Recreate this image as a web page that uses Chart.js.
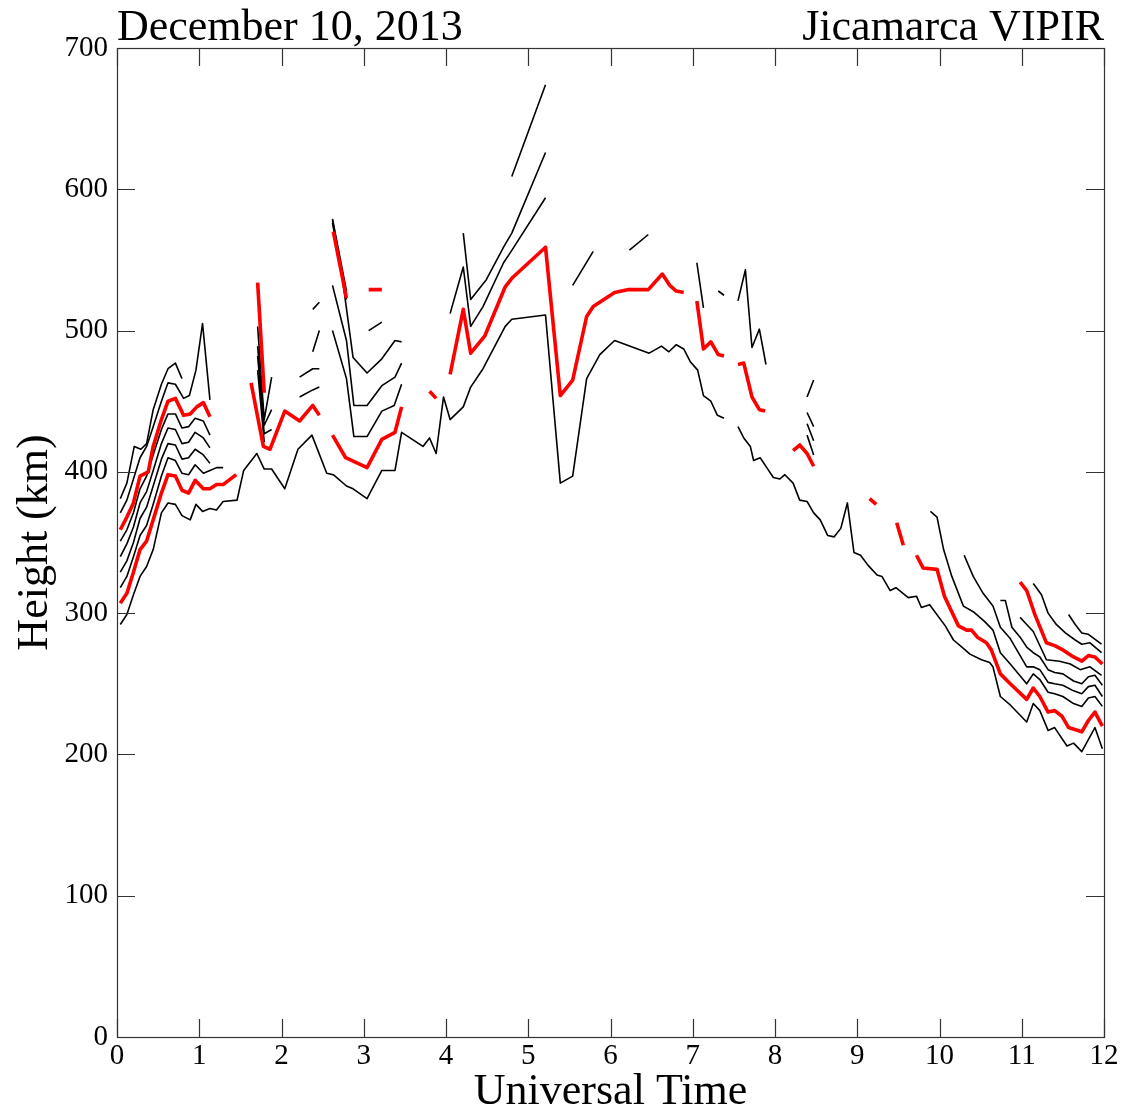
<!DOCTYPE html>
<html>
<head>
<meta charset="utf-8">
<script src="https://cdn.jsdelivr.net/npm/chart.js@4.4.0/dist/chart.umd.min.js"></script>
<style>
  html, body { margin: 0; padding: 0; background: #fff; }
  #wrap { width: 1134px; height: 1114px; }
</style>
</head>
<body>
<div id="wrap"><canvas id="ionoChart" width="1134" height="1114"></canvas></div>
<script>
const ctx = document.getElementById('ionoChart').getContext('2d');

const leftTitle = 'December 10, 2013'
const rightTitle = 'Jicamarca VIPIR'
const xTicks = [0, 1, 2, 3, 4, 5, 6, 7, 8, 9, 10, 11, 12]
const yTicks = [0, 100, 200, 300, 400, 500, 600, 700]

// bottom contour (black)
const f1Time = [0.04, 0.12, 0.20, 0.28, 0.36, 0.44, 0.54, 0.62, 0.71, 0.79, 0.89, 0.96, 1.04, 1.13, 1.21, 1.29, 1.46, 1.54, 1.70, 1.79, 1.88, 2.04, 2.20, 2.37, 2.55, 2.63, 2.79, 2.87, 3.04, 3.22, 3.38, 3.46, 3.72, 3.80, 3.88, 3.97, 4.05, 4.21, 4.30, 4.45, 4.72, 4.80, 5.21, 5.39, 5.54, 5.71, 5.87, 6.05, 6.47, 6.62, 6.71, 6.80, 6.89, 6.97, 7.06, 7.13, 7.22, 7.30, 7.38, 7.46, 7.55, 7.62, 7.70, 7.74, 7.82, 7.90, 7.98, 8.06, 8.12, 8.22, 8.30, 8.39, 8.47, 8.55, 8.64, 8.72, 8.80, 8.88, 8.96, 9.04, 9.13, 9.24, 9.30, 9.40, 9.47, 9.62, 9.72, 9.78, 9.88, 10.07, 10.17, 10.29, 10.37, 10.51, 10.61, 10.65, 10.74, 10.86, 11.06, 11.14, 11.22, 11.32, 11.40, 11.55, 11.63, 11.73, 11.89, 11.98]
const f1Height = [292, 299, 313, 326, 333, 345, 371, 378, 377, 369, 366, 377, 372, 374, 373, 379, 380, 401, 413, 402, 402, 388, 416, 426, 399, 398, 390, 388, 381, 401, 401, 428, 418, 424, 413, 453, 437, 446, 460, 473, 503, 508, 511, 392, 397, 466, 483, 493, 484, 489, 485, 490, 487, 478, 472, 454, 450, 440, 438, null, 432, 424, 418, 408, 410, 403, 396, 395, 398, 392, 380, 379, 371, 366, 355, 354, 360, 378, 343, 341, 334, 327, 326, 316, 318, 311, 312, 304, 306, 291, 281, 275, 271, 267, 265, 262, 241, 235, 223, 236, 231, 217, 219, 206, 208, 202, 219, 204]

// lower red contour
const f2Time = [0.04, 0.12, 0.20, 0.28, 0.36, 0.44, 0.54, 0.62, 0.71, 0.79, 0.87, 0.95, 1.05, 1.13, 1.21, 1.29, 1.45, 1.55, 1.63, 1.78, 1.86, 2.04, 2.22, 2.38, 2.46, 2.54, 2.62, 2.78, 3.04, 3.22, 3.38, 3.46, 3.60, 3.80, 3.88, 3.96, 4.05, 4.21, 4.30, 4.47, 4.72, 4.80, 5.21, 5.39, 5.54, 5.71, 5.79, 6.05, 6.22, 6.46, 6.63, 6.72, 6.80, 6.89, 6.97, 7.05, 7.13, 7.22, 7.31, 7.38, 7.46, 7.55, 7.62, 7.72, 7.81, 7.88, 8.05, 8.22, 8.30, 8.39, 8.47, 8.80, 9.15, 9.23, 9.35, 9.48, 9.56, 9.64, 9.72, 9.80, 9.97, 10.06, 10.23, 10.33, 10.39, 10.46, 10.57, 10.63, 10.74, 10.86, 11.06, 11.14, 11.22, 11.32, 11.40, 11.49, 11.57, 11.73, 11.81, 11.89, 11.98]
const f2Height = [307, 314, 329, 345, 351, 366, 385, 398, 397, 387, 385, 394, 388, 388, 391, 391, 398, null, 463, 418, 416, 443, 436, 447, 440, null, 426, 410, 403, 423, 428, 446, null, 457, 452, null, 469, 515, 484, 496, 531, 537, 559, 454, 465, 510, 517, 527, 529, 529, 540, 532, 528, 527, null, 521, 487, 492, 483, 482, null, 476, 477, 453, 444, 443, null, 415, 419, 413, 404, null, 381, 377, null, 364, 348, null, 341, 332, 331, 312, 291, 288, 288, 283, 279, 274, 257, 250, 239, 247, 241, 230, 231, 227, 219, 216, 224, 230, 220]

// black contours between the red ones
const f3Time = [0.04, 0.12, 0.20, 0.28, 0.36, 0.44, 0.54, 0.62, 0.71, 0.79, 0.87, 0.95, 1.05, 1.13, 1.21, 1.29, 1.50, 1.71, 1.79, 2.00, 2.22, 2.38, 2.46, 2.54, 2.62, 2.79, 2.88, 3.04, 3.22, 3.37, 3.46, 3.80, 4.05, 4.21, 4.30, 4.45, 4.70, 4.78, 5.21, 5.40, 5.54, 5.79, 6.00, 6.23, 6.46, 6.80, 7.05, 7.13, 7.22, 7.31, 7.38, 7.46, 7.55, 7.64, 7.72, 7.81, 7.89, 8.10, 8.39, 8.47, 9.20, 9.89, 9.97, 10.05, 10.15, 10.29, 10.41, 10.55, 10.65, 10.74, 10.86, 11.06, 11.14, 11.22, 11.32, 11.40, 11.50, 11.63, 11.73, 11.81, 11.89, 11.98]
const f3Height = [318, 326, 340, 355, 362, 377, 397, 410, 408, 399, 398, 405, 399, 401, 403, 403, null, 472, 421, null, 453, 458, 460, null, 500, 466, 425, 425, 443, 447, 462, null, 512, 545, 503, 517, 548, 555, 594, null, 532, 556, null, 557, 568, null, 548, 516, null, 528, 525, null, 521, 543, 488, 501, 476, null, 426, 412, null, 372, 368, 345, 326, 305, 301, 294, 288, 272, 264, 250, 257, 253, 244, 243, 241, 236, 234, 240, 241, 234]

const f4Time = [0.04, 0.12, 0.20, 0.28, 0.36, 0.44, 0.54, 0.62, 0.71, 0.79, 0.87, 0.95, 1.05, 1.13, 1.40, 1.71, 1.79, 1.88, 2.00, 2.22, 2.38, 2.46, 2.54, 2.62, 2.79, 2.88, 3.04, 3.22, 3.38, 3.46, 3.80, 4.21, 4.30, 4.49, 4.70, 4.80, 5.21, 6.80, 8.39, 8.47, 9.40, 10.30, 10.41, 10.53, 10.65, 10.74, 10.86, 11.06, 11.14, 11.22, 11.32, 11.40, 11.50, 11.63, 11.73, 11.81, 11.89, 11.98]
const f4Height = [329, 337, 350, 367, 375, 390, 409, 420, 419, 409, 410, 416, 412, 406, null, 482, 427, 430, null, 467, 473, 473, null, 532, 493, 447, 447, 461, 467, 477, null, 569, 522, 536, 559, 569, 626, null, 434, 422, null, 341, 326, 314, 305, 290, 282, 262, 262, 260, 251, 250, 249, 245, 243, 248, 249, 241]

const f5Time = [0.04, 0.12, 0.20, 0.28, 0.36, 0.44, 0.54, 0.62, 0.71, 0.79, 0.87, 0.95, 1.05, 1.13, 1.40, 1.71, 1.79, 1.88, 2.10, 2.38, 2.46, 2.54, 2.62, 2.71, 2.87, 3.04, 3.22, 3.38, 3.46, 4.00, 4.80, 5.21, 6.80, 8.39, 8.47, 9.50, 10.74, 10.80, 10.88, 10.98, 11.06, 11.14, 11.22, 11.32, 11.40, 11.50, 11.63, 11.73, 11.81, 11.89, 11.98]
const f5Height = [340, 349, 361, 378, 386, 401, 420, 431, 430, 420, 421, 428, 424, 417, null, 489, 433, 444, null, 485, 500, null, 578, 550, 481, 470, 480, 493, 492, null, 609, 674, null, 442, 432, null, 309, 309, 290, 283, 276, 272, 269, 260, 258, 257, 252, 250, 255, 256, 249]

const f6Time = [0.04, 0.12, 0.20, 0.28, 0.36, 0.44, 0.54, 0.62, 0.71, 0.79, 0.87, 0.95, 1.05, 1.13, 1.40, 1.71, 1.79, 1.88, 2.10, 2.38, 2.46, 2.54, 2.62, 2.79, 2.92, 3.06, 3.22, 6.00, 8.39, 8.47, 9.50, 10.98, 11.06, 11.14, 11.30, 11.46, 11.59, 11.71, 11.83, 11.97]
const f6Height = [351, 359, 371, 388, 397, 412, 430, 441, 441, 431, 432, 438, 436, 426, null, 503, 437, 467, null, 515, 520, null, 576, 522, null, 500, 506, null, 453, 465, null, 297, 292, 287, 267, 266, 264, 260, 262, 256]

// upper red contour
const f7Time = [0.04, 0.12, 0.20, 0.28, 0.38, 0.44, 0.54, 0.62, 0.71, 0.81, 0.89, 0.97, 1.05, 1.13, 1.40, 1.71, 1.79, 2.20, 2.63, 2.79, 2.92, 3.06, 3.22, 7.00, 10.98, 11.06, 11.16, 11.30, 11.40, 11.50, 11.63, 11.73, 11.81, 11.89, 11.98]
const f7Height = [359, 368, 378, 397, 400, 418, 437, 450, 452, 440, 441, 446, 449, 439, null, 534, 456, null, 570, 523, null, 529, 529, null, 322, 316, 299, 279, 277, 274, 269, 266, 270, 269, 264]

// top black contours
const f8Time = [0.04, 0.12, 0.20, 0.28, 0.36, 0.44, 0.54, 0.62, 0.71, 0.81, 0.88, 0.96, 1.04, 1.13, 1.80, 2.62, 2.79, 7.00, 11.14, 11.24, 11.32, 11.42, 11.53, 11.65, 11.73, 11.83, 11.97]
const f8Height = [371, 380, 395, 410, 418, 432, 450, 463, 462, 452, 454, 472, 505, 451, null, 579, 528, null, 321, 313, 300, 292, 286, 281, 278, 279, 272]

const f9Time = [0.04, 0.12, 0.21, 0.29, 0.36, 0.44, 0.54, 0.62, 0.71, 0.79, 6.00, 11.57, 11.65, 11.73, 11.81, 11.97]
const f9Height = [381, 392, 418, 416, 420, 444, 462, 473, 477, 466, null, 299, 292, 286, 285, 278]

const toPoints = (t, h) => t.map((x, i) => ({ x: x, y: h[i] }))

const black = (t, h) => ({
    data: toPoints(t, h),
    borderColor: '#000000',
    borderWidth: 1.6,
    order: 2
})
const red = (t, h) => ({
    data: toPoints(t, h),
    borderColor: '#ff0000',
    borderWidth: 3.6,
    order: 1
})

const serif = "'Liberation Serif', 'Times New Roman', serif"

// box, inward ticks on all four sides, and the two top titles
const framePlugin = {
    id: 'frame',
    afterDraw(chart) {
        const c = chart.ctx
        const a = chart.chartArea
        const xs = chart.scales.x
        const ys = chart.scales.y
        const len = 18
        c.save()
        c.strokeStyle = '#333'
        c.lineWidth = 1.2
        c.beginPath()
        xTicks.forEach(v => {
            const px = Math.round(xs.getPixelForValue(v)) + 0.5
            c.moveTo(px, a.bottom); c.lineTo(px, a.bottom - len)
            c.moveTo(px, a.top); c.lineTo(px, a.top + len)
        })
        yTicks.forEach(v => {
            const py = Math.round(ys.getPixelForValue(v)) + 0.5
            c.moveTo(a.left, py); c.lineTo(a.left + len, py)
            c.moveTo(a.right, py); c.lineTo(a.right - len, py)
        })
        c.stroke()
        c.strokeRect(a.left + 0.5, a.top + 0.5, a.right - a.left, a.bottom - a.top)
        c.fillStyle = '#000'
        c.font = '44px ' + serif
        c.textBaseline = 'alphabetic'
        c.textAlign = 'left'
        c.fillText(leftTitle, a.left, 40)
        c.textAlign = 'right'
        c.fillText(rightTitle, a.right, 40)
        c.restore()
    }
}

const myChart = new Chart(ctx, {
    type: 'line',
    data: {
        datasets: [
            black(f1Time, f1Height),
            red(f2Time, f2Height),
            black(f3Time, f3Height),
            black(f4Time, f4Height),
            black(f5Time, f5Height),
            black(f6Time, f6Height),
            red(f7Time, f7Height),
            black(f8Time, f8Height),
            black(f9Time, f9Height)
        ]
    },
    options: {
        responsive: false,
        animation: false,
        spanGaps: false,
        elements: {
            point: { radius: 0 },
            line: { tension: 0, borderJoinStyle: 'round', borderCapStyle: 'butt' }
        },
        layout: { padding: { left: 0, top: 48, right: 30, bottom: 0 } },
        plugins: {
            legend: { display: false },
            tooltip: { enabled: false }
        },
        scales: {
            x: {
                type: 'linear',
                min: 0,
                max: 12,
                afterBuildTicks: s => { s.ticks = xTicks.map(v => ({ value: v })) },
                afterFit: s => { s.height = 77 },
                grid: { display: false, drawTicks: false },
                border: { display: false },
                ticks: {
                    padding: 5,
                    color: '#000',
                    maxRotation: 0,
                    font: { family: serif, size: 29, lineHeight: 1 }
                },
                title: {
                    display: true,
                    text: 'Universal Time',
                    color: '#000',
                    padding: 0,
                    font: { family: serif, size: 44, lineHeight: 1 }
                }
            },
            y: {
                type: 'linear',
                min: 0,
                max: 700,
                afterBuildTicks: s => { s.ticks = yTicks.map(v => ({ value: v })) },
                afterFit: s => { s.width = 117 },
                grid: { display: false, drawTicks: false },
                border: { display: false },
                ticks: {
                    padding: 9,
                    color: '#000',
                    font: { family: serif, size: 29, lineHeight: 1 }
                },
                title: {
                    display: true,
                    text: 'Height (km)',
                    color: '#000',
                    padding: { top: 13, bottom: 0 },
                    font: { family: serif, size: 44, lineHeight: 1 }
                }
            }
        }
    },
    plugins: [framePlugin]
});
</script>
</body>
</html>
